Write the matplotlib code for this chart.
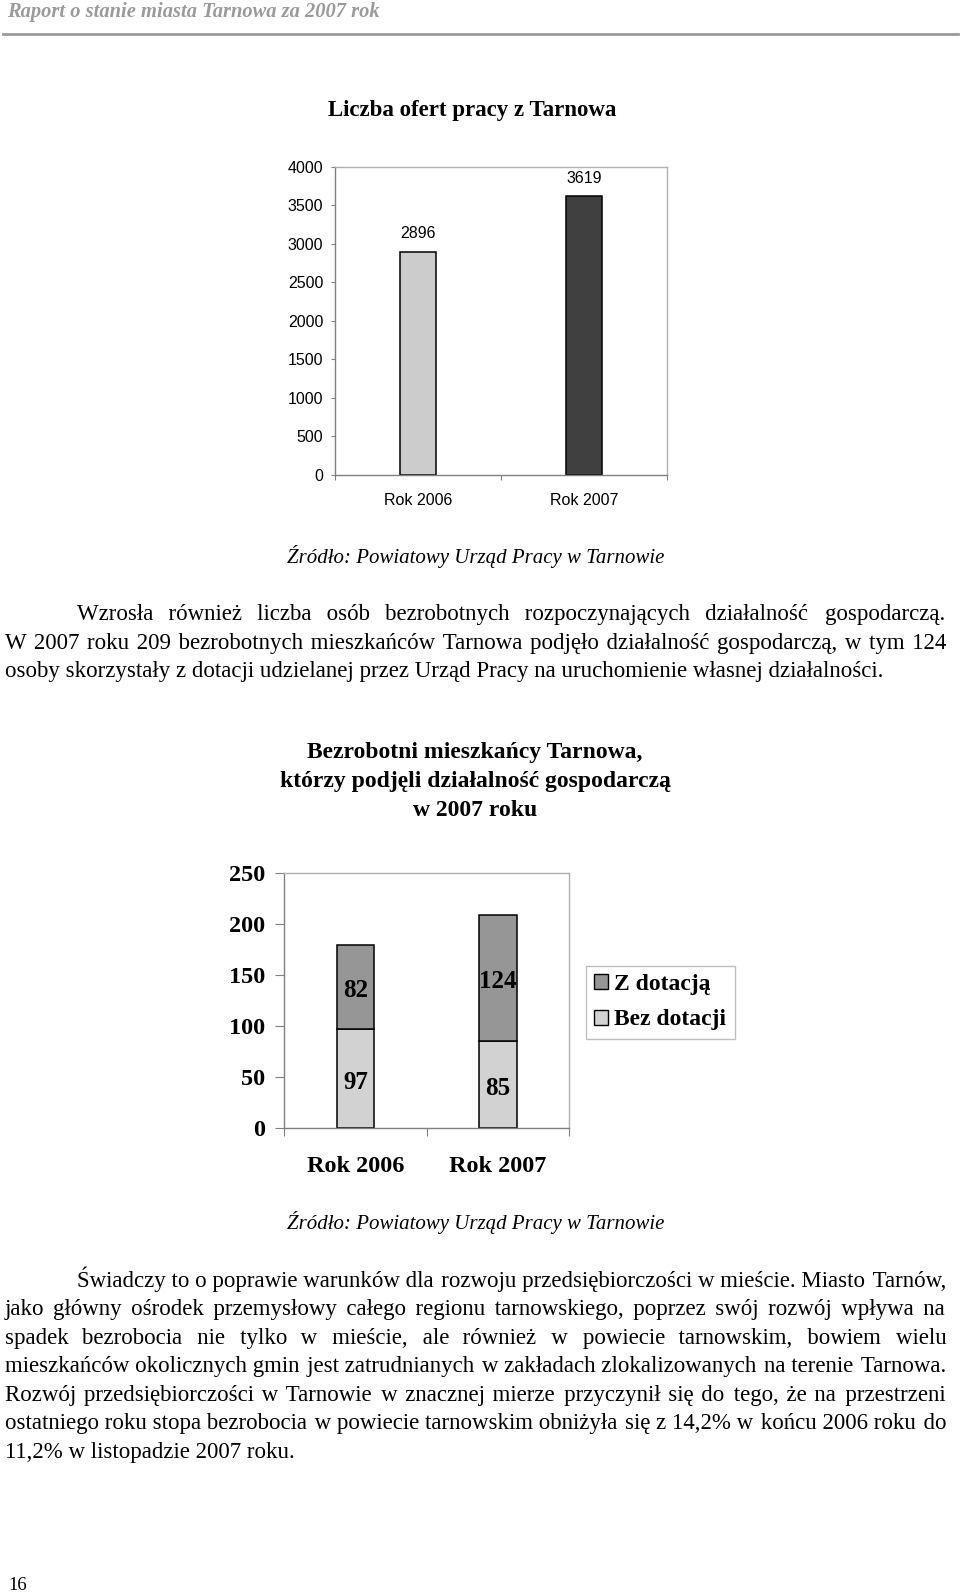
import matplotlib
matplotlib.use("Agg")
import matplotlib.pyplot as plt
from matplotlib.lines import Line2D
from matplotlib.patches import Patch

# ---------------- data ----------------
years = ["Rok 2006", "Rok 2007"]
offers = [2896, 3619]
offer_colors = ["#cccccc", "#404040"]
yticks1 = [0, 500, 1000, 1500, 2000, 2500, 3000, 3500, 4000]

z_dotacja = [82, 124]
bez_dotacji = [97, 85]
yticks2 = [0, 50, 100, 150, 200, 250]

header = "Raport o stanie miasta Tarnowa za 2007 rok"
title1 = "Liczba ofert pracy z Tarnowa"
title2 = ["Bezrobotni mieszkańcy Tarnowa,",
          "którzy podjęli działalność gospodarczą",
          "w 2007 roku"]
source = "Źródło: Powiatowy Urząd Pracy w Tarnowie"
para1 = [
    "Wzrosła również liczba osób bezrobotnych rozpoczynających działalność gospodarczą.",
    "W 2007 roku 209 bezrobotnych mieszkańców Tarnowa podjęło działalność gospodarczą, w tym 124",
    "osoby skorzystały z dotacji udzielanej przez Urząd Pracy na uruchomienie własnej działalności.",
]
para2 = [
    "Świadczy to o poprawie warunków dla rozwoju przedsiębiorczości w mieście. Miasto Tarnów,",
    "jako główny ośrodek przemysłowy całego regionu tarnowskiego, poprzez swój rozwój wpływa na",
    "spadek bezrobocia nie tylko w mieście, ale również w powiecie tarnowskim, bowiem wielu",
    "mieszkańców okolicznych gmin jest zatrudnianych w zakładach zlokalizowanych na terenie Tarnowa.",
    "Rozwój przedsiębiorczości w Tarnowie w znacznej mierze przyczynił się do tego, że na przestrzeni",
    "ostatniego roku stopa bezrobocia w powiecie tarnowskim obniżyła się z 14,2% w końcu 2006 roku do",
    "11,2% w listopadzie 2007 roku.",
]
page_no = "16"

# ---------------- figure ----------------
W, H = 960, 1593
fig = plt.figure(figsize=(W / 100, H / 100), dpi=100)
fig.patch.set_facecolor("white")


def fx(x):
    return x / W


def fy(y):
    return 1 - y / H


SERIF = "Liberation Serif"
SERIFS = ["Liberation Serif", "DejaVu Serif"]
SANS = "Liberation Sans"

# header
fig.text(fx(7), fy(17), header, fontsize=14.8, family=SERIF, style="italic",
         weight="bold", color="#9a9a9a", va="baseline", ha="left")
fig.add_artist(Line2D([fx(3), fx(958)], [fy(33.5), fy(33.5)], color="#9a9a9a",
                      lw=2.0, transform=fig.transFigure))

# ---------------- chart 1 ----------------
fig.text(fx(472), fy(116), title1, fontsize=16.5, family=SERIF, weight="bold",
         ha="center", va="baseline")

l1, r1, t1, b1 = 335, 666.7, 166.7, 475
ax1 = fig.add_axes([fx(l1), fy(b1), (r1 - l1) / W, (b1 - t1) / H])
xpos = [0, 1]
ax1.bar(xpos, offers, width=0.22, color=offer_colors, edgecolor="black", linewidth=1.1)
ax1.set_xlim(-0.5, 1.5)
ax1.set_ylim(0, 4000)
ax1.set_yticks(yticks1)
ax1.set_yticklabels([str(v) for v in yticks1], family=SANS, fontsize=11.5)
ax1.set_xticks(xpos)
ax1.set_xticklabels(years, family=SANS, fontsize=11.5)
ax1.set_xticks([-0.5, 0.5, 1.5], minor=True)
ax1.tick_params(axis="x", which="major", length=0, pad=13)
ax1.tick_params(axis="x", which="minor", length=3.6, color="#808080", width=0.8)
ax1.tick_params(axis="y", length=3, color="#808080", width=0.8, pad=5.5)
for s in ["left", "bottom"]:
    ax1.spines[s].set_color("#808080")
    ax1.spines[s].set_linewidth(1.0)
for s in ["top", "right"]:
    ax1.spines[s].set_color("#b0b0b0")
    ax1.spines[s].set_linewidth(1.0)
for x, v in zip(xpos, offers):
    ax1.annotate(str(v), (x, v), xytext=(0, 13), textcoords="offset points",
                 ha="center", va="center", family=SANS, fontsize=11.5)

# source line
fig.text(fx(475.5), fy(563), source, fontsize=15, family=SERIF, style="italic",
         ha="center", va="baseline")

# ---------------- justified paragraphs ----------------
renderer = fig.canvas.get_renderer()
BODY = dict(fontsize=16.5, family=SERIFS, va="baseline", ha="left")
HAIR = "\u200a"


def width_of(s):
    t = fig.text(0, 0, s, **BODY)
    w = t.get_window_extent(renderer).width
    t.remove()
    return w


hair_w = width_of("x" + HAIR * 10 + "x") - width_of("xx")
hair_w /= 10.0


def draw_line(text, x0, x1, y, justify):
    if not justify:
        fig.text(fx(x0), fy(y), text, **BODY)
        return
    words = text.split(" ")
    ngaps = len(words) - 1
    w0 = width_of(text)
    extra = (x1 - x0) - w0
    k = max(0, int(round(extra / hair_w)))
    counts = []
    for i in range(ngaps):
        a = (k * (i + 1)) // ngaps
        b = (k * i) // ngaps
        counts.append(a - b)
    s = words[0]
    for i in range(ngaps):
        s += " " + HAIR * counts[i] + words[i + 1]
    fig.text(fx(x0), fy(y), s, **BODY)


def draw_para(lines, base_y, step, indent=77, left=5, right=946):
    for i, line in enumerate(lines):
        x0 = indent if i == 0 else left
        draw_line(line, x0, right, base_y + i * step, i < len(lines) - 1)


draw_para(para1, 620.5, 28.5)

# ---------------- chart 2 ----------------
for i, line in enumerate(title2):
    fig.text(fx(475), fy(752 + i * 29), line, fontsize=17, family=SERIF,
             weight="bold", ha="center", va="center")

l2, r2, t2, b2 = 284.3, 569, 872.7, 1128.3
ax2 = fig.add_axes([fx(l2), fy(b2), (r2 - l2) / W, (b2 - t2) / H])
c_z, c_b = "#969696", "#d2d2d2"
ax2.bar(xpos, bez_dotacji, width=0.264, color=c_b, edgecolor="black", linewidth=1.1)
ax2.bar(xpos, z_dotacja, width=0.264, bottom=bez_dotacji, color=c_z,
        edgecolor="black", linewidth=1.1)
ax2.set_xlim(-0.5, 1.5)
ax2.set_ylim(0, 250)
ax2.set_yticks(yticks2)
ax2.set_yticklabels([str(v) for v in yticks2], family=SERIF, fontsize=17.5, weight="bold")
ax2.set_xticks(xpos)
ax2.set_xticklabels(years, family=SERIF, fontsize=17.5, weight="bold")
ax2.set_xticks([-0.5, 0.5, 1.5], minor=True)
ax2.tick_params(axis="x", which="major", length=0, pad=20)
ax2.tick_params(axis="x", which="minor", length=6, color="#808080", width=0.8)
ax2.tick_params(axis="y", length=6.5, color="#808080", width=0.8, pad=7)
for s in ["left", "bottom"]:
    ax2.spines[s].set_color("#808080")
    ax2.spines[s].set_linewidth(1.0)
for s in ["top", "right"]:
    ax2.spines[s].set_color("#b0b0b0")
    ax2.spines[s].set_linewidth(1.0)
for x, b, z in zip(xpos, bez_dotacji, z_dotacja):
    ax2.annotate(str(b), (x, b / 2), xytext=(0, -2.6), textcoords="offset points",
                 ha="center", va="center", family=SERIF, fontsize=18, weight="bold")
    ax2.annotate(str(z), (x, b + z / 2), xytext=(0, -2.6), textcoords="offset points",
                 ha="center", va="center", family=SERIF, fontsize=18, weight="bold")

handles = [Patch(facecolor=c_z, edgecolor="black", linewidth=1.0),
           Patch(facecolor=c_b, edgecolor="black", linewidth=1.0)]
leg = fig.legend(handles, ["Z dotacją", "Bez dotacji"], loc="upper left",
                 bbox_to_anchor=(fx(586), fy(966)), bbox_transform=fig.transFigure,
                 prop=dict(family=SERIF, size=17, weight="bold"),
                 frameon=True, fancybox=False, shadow=False, borderaxespad=0,
                 handlelength=0.6, handleheight=0.6, handletextpad=0.25,
                 labelspacing=0.6, borderpad=0.35)
leg.get_frame().set_edgecolor("#b0b0b0")
leg.get_frame().set_linewidth(1.0)

fig.text(fx(475.5), fy(1229), source, fontsize=15, family=SERIF, style="italic",
         ha="center", va="baseline")

draw_para(para2, 1286.5, 28.6)

fig.text(fx(8), fy(1590), page_no, fontsize=13.5, family=SERIF, va="baseline", ha="left")

fig.savefig("out.png", dpi=100, facecolor="white")
